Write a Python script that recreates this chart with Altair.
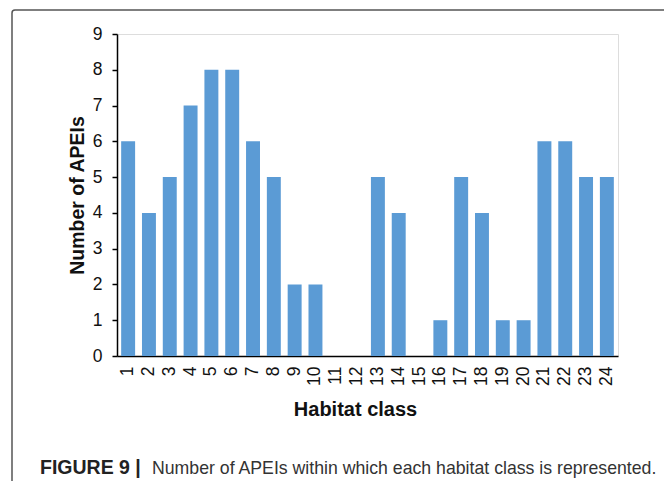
import altair as alt
import pandas as pd

classes = [str(i) for i in range(1, 25)]
counts = [6, 4, 5, 7, 8, 8, 6, 5, 2, 2, 0, 0, 5, 4, 0, 1, 5, 4, 1, 1, 6, 6, 5, 5]
y_ticks = list(range(0, 10))
caption_bold = ["FIGURE 9 |"]
caption_rest = ["Number of APEIs within which each habitat class is represented."]

df = pd.DataFrame({"cls": classes, "n": counts})

W, H = 501, 322

bars = alt.Chart(df).mark_bar(color="#5B9BD5").encode(
    x=alt.X("cls:N", sort=classes, title="Habitat class",
            scale=alt.Scale(paddingInner=0.33, paddingOuter=0.2),
            axis=alt.Axis(labelAngle=270, ticks=False, domainColor="#000000",
                          domainWidth=1.5, labelFontSize=17.5, labelPadding=10,
                          titleFontSize=20, titleFontWeight="bold", titlePadding=14,
                          titleX=238, titleAlign="center",
                          labelColor="#111111", titleColor="#111111",
                          labelFont="Liberation Sans", titleFont="Liberation Sans")),
    y=alt.Y("n:Q", title="Number of APEIs",
            scale=alt.Scale(domain=[0, 9], nice=False),
            axis=alt.Axis(values=y_ticks, grid=False, domainColor="#000000", domainWidth=1.5,
                          tickColor="#000000", tickSize=5, tickWidth=1.5,
                          labelFontSize=17.5, labelPadding=10, titleFontSize=19.5,
                          titleFontWeight="bold", titlePadding=5,
                          labelColor="#111111", titleColor="#111111",
                          labelFont="Liberation Sans", titleFont="Liberation Sans")),
)

frame = alt.Chart(pd.DataFrame({"a": [0]})).mark_rect(
    fill=None, stroke="#555555", strokeWidth=1.5, cornerRadius=3
).encode(x=alt.value(-105), x2=alt.value(550), y=alt.value(-24), y2=alt.value(470))

cap1 = alt.Chart(pd.DataFrame({"t": caption_bold})).mark_text(
    align="left", baseline="alphabetic", fontSize=19.5, fontWeight="bold",
    font="Liberation Sans", color="#222222"
).encode(text="t:N", x=alt.value(-77), y=alt.value(440))

cap2 = alt.Chart(pd.DataFrame({"t": caption_rest})).mark_text(
    align="left", baseline="alphabetic", fontSize=17.7,
    font="Liberation Sans", color="#333333"
).encode(text="t:N", x=alt.value(35), y=alt.value(440))

chart = alt.layer(frame, bars, cap1, cap2).properties(
    width=W, height=H,
    autosize=alt.AutoSizeParams(type="none"),
    padding={"left": 109, "top": 26, "right": 46, "bottom": 125},
).configure_view(stroke=None).configure(background="white")

chart.save("out.html", embed_options={"renderer": "svg", "actions": False})
